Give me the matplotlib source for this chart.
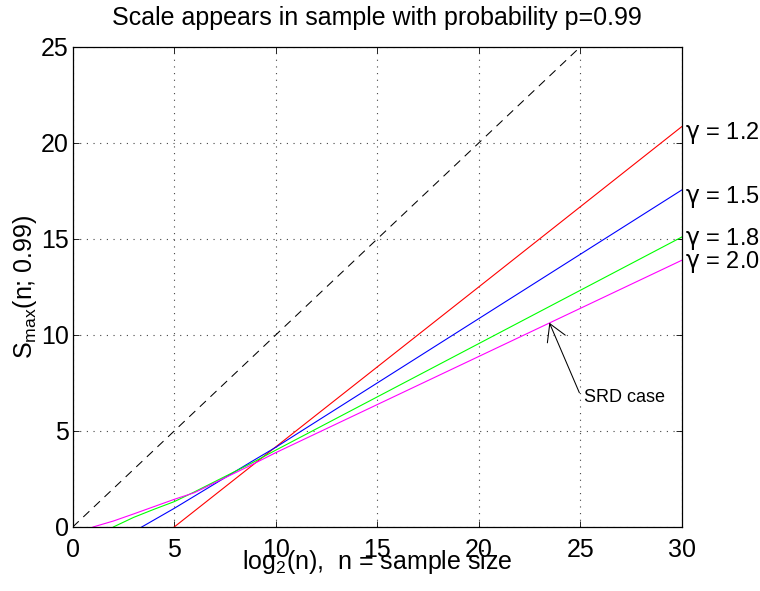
import numpy as np
import matplotlib
matplotlib.use('Agg')
import matplotlib.pyplot as plt

plt.rcParams['font.family'] = ['Liberation Sans', 'DejaVu Sans']
plt.rcParams['mathtext.fontset'] = 'custom'
plt.rcParams['mathtext.rm'] = 'Liberation Sans'
plt.rcParams['mathtext.it'] = 'Liberation Sans'

# values (x = log2(n), y = S_max)
gammas = ['1.2', '1.5', '1.8', '2.0']
colors = ['red', 'blue', '#00ff00', 'magenta']

x_g12 = [5.0, 10.0, 20.0, 30.0]
y_g12 = [0.0, 4.17, 12.5, 20.85]

x_g15 = [3.4, 5.0, 8.8, 10.0, 20.0, 30.0]
y_g15 = [0.0, 0.97, 3.40, 4.15, 10.85, 17.55]

x_g18 = [2.0, 3.0, 4.0, 5.0, 6.0, 8.8, 10.0, 20.0, 30.0]
y_g18 = [0.0, 0.50, 0.92, 1.32, 1.83, 3.32, 4.0, 9.55, 15.1]

x_g20 = [1.0, 2.0, 3.0, 4.0, 5.0, 6.0, 8.8, 10.0, 20.0, 30.0]
y_g20 = [0.0, 0.31, 0.68, 1.06, 1.44, 1.79, 3.23, 3.87, 8.88, 13.89]

x_ref = [0, 25]
y_ref = [0, 25]

label_y = [20.5, 17.2, 15.0, 13.8]
srd_point = (23.48, 10.64)

xs = [x_g12, x_g15, x_g18, x_g20]
ys = [y_g12, y_g15, y_g18, y_g20]

fig = plt.figure(figsize=(7.6, 5.91), dpi=100)
ax = fig.add_axes([72.7 / 760, 1 - 527 / 591, 609 / 760, 480 / 591])

ax.plot(x_ref, y_ref, color='black', lw=0.75, dashes=(8, 6))
for x, y, c in zip(xs, ys, colors):
    ax.plot(x, y, color=c, lw=0.8)

for g, yl in zip(gammas, label_y):
    ax.text(30.15, yl, r'$\mathrm{\gamma}$ = ' + g, fontsize=17, va='center', ha='left',
            clip_on=False, math_fontfamily='dejavusans')

# SRD annotation
ax.annotate('', xy=srd_point, xytext=(24.96, 6.99),
            arrowprops=dict(arrowstyle='->, head_length=1.2, head_width=0.7', color='black', lw=0.75,
                            shrinkA=0, shrinkB=0))
ax.text(25.2, 6.75, 'SRD case', fontsize=13, va='center', ha='left')

ax.set_xlim(0, 30)
ax.set_ylim(0, 25)
ax.set_xticks(np.arange(0, 31, 5))
ax.set_yticks(np.arange(0, 26, 5))
ax.grid(True, color='#444444', linestyle=(0, (1, 5)), lw=0.8)
ax.tick_params(direction='in', top=True, right=True, length=4, width=0.6, labelsize=18)
ax.tick_params(axis='x', pad=8)
ax.tick_params(axis='y', pad=3)
for s in ax.spines.values():
    s.set_linewidth(0.9)

ax.set_title('Scale appears in sample with probability p=0.99', fontsize=18, pad=16)
ax.set_xlabel(r'log$_{2}$(n),  n = sample size', fontsize=18)
ax.xaxis.set_label_coords(0.5, -0.044)
ax.set_ylabel(r'S$_{\mathrm{max}}$(n; 0.99)', fontsize=18)
ax.yaxis.set_label_coords(-0.056, 0.5)

fig.savefig('out.png', dpi=100)
